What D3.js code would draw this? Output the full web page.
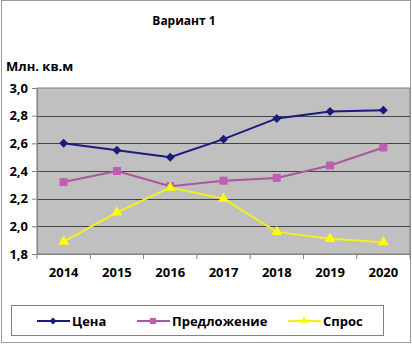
<!DOCTYPE html>
<html>
<head>
<meta charset="utf-8">
<script src="https://cdnjs.cloudflare.com/ajax/libs/d3/7.8.5/d3.min.js"></script>
<style>
body { margin: 0; background: #fff; }
svg text { font-family: "Open Sans", "DejaVu Sans", sans-serif; font-weight: bold; fill: #000; }
</style>
</head>
<body>
<script>
(function(){

//data
var years = ["2014", "2015", "2016", "2017", "2018", "2019", "2020"];
var price = [2.60, 2.55, 2.50, 2.63, 2.78, 2.83, 2.84];
var supply = [2.32, 2.40, 2.29, 2.33, 2.35, 2.44, 2.57];
var demand = [1.89, 2.10, 2.28, 2.20, 1.96, 1.91, 1.885];
var yTicks = [1.8, 2.0, 2.2, 2.4, 2.6, 2.8, 3.0];
var seriesNames = ["Цена", "Предложение", "Спрос"];

var width = 412, height = 349;
var plot = {left: 37, right: 410, top: 88, bottom: 254};

var svg = d3.select("body").append("svg")
    .attr("width", width)
    .attr("height", height);

//outer chart border
svg.append("rect")
    .attr("x", 1.5).attr("y", 0.5)
    .attr("width", 409).attr("height", 342)
    .attr("fill", "#fff")
    .attr("stroke", "#9a9a9a");

var x = d3.scaleBand().domain(years).range([plot.left, plot.right]);
var y = d3.scaleLinear().domain([1.8, 3.0]).range([plot.bottom, plot.top]);

//plot background
svg.append("rect")
    .attr("x", plot.left).attr("y", plot.top)
    .attr("width", plot.right - plot.left)
    .attr("height", plot.bottom - plot.top)
    .attr("fill", "#c0c0c0")
    .attr("stroke", "#808080");

//gridlines
svg.selectAll(".grid")
    .data(yTicks.slice(1, -1))
    .enter().append("line")
    .attr("class", "grid")
    .attr("x1", plot.left).attr("x2", plot.right)
    .attr("y1", function(d){ return Math.round(y(d)) + 0.5; })
    .attr("y2", function(d){ return Math.round(y(d)) + 0.5; })
    .attr("stroke", "#444")
    .attr("stroke-width", 1);

//y axis
var yAxis = svg.append("g")
    .attr("transform", "translate(" + plot.left + ",0)")
    .call(d3.axisLeft(y).tickValues(yTicks).tickSize(5).tickPadding(6)
        .tickFormat(function(d){ return d3.format(".1f")(d).replace(".", ","); }));
yAxis.select(".domain").attr("stroke", "#808080");
yAxis.selectAll(".tick line").attr("stroke", "#808080");
yAxis.selectAll("text").attr("font-size", 13).attr("x", -9);

//x axis
var xAxis = svg.append("g")
    .attr("transform", "translate(0," + plot.bottom + ")")
    .call(d3.axisBottom(x).tickSize(0).tickPadding(14));
xAxis.select(".domain").attr("stroke", "#808080");
xAxis.selectAll("text").attr("font-size", 13);

//category separators on x axis
svg.selectAll(".xsep")
    .data(years.concat(["end"]))
    .enter().append("line")
    .attr("class", "xsep")
    .attr("x1", function(d, i){ return plot.left + i * x.bandwidth(); })
    .attr("x2", function(d, i){ return plot.left + i * x.bandwidth(); })
    .attr("y1", plot.bottom).attr("y2", plot.bottom + 5)
    .attr("stroke", "#808080");

//series
var series = [
    {name: seriesNames[0], values: price, line: "#1a1a80", fill: "#1a1a80", symbol: d3.symbolSquare, size: 40, rotate: 45},
    {name: seriesNames[1], values: supply, line: "#a8589e", fill: "#c25cb4", symbol: d3.symbolSquare, size: 64, rotate: 0},
    {name: seriesNames[2], values: demand, line: "#f0f020", fill: "#ffff00", symbol: d3.symbolTriangle, size: 50, rotate: 0}
];

var line = d3.line()
    .x(function(d, i){ return x(years[i]) + x.bandwidth() / 2; })
    .y(function(d){ return y(d); });

series.forEach(function(s){
    svg.append("path")
        .datum(s.values)
        .attr("d", line)
        .attr("fill", "none")
        .attr("stroke", s.line)
        .attr("stroke-width", 2);
    svg.selectAll(null)
        .data(s.values)
        .enter().append("path")
        .attr("d", d3.symbol().type(s.symbol).size(s.size))
        .attr("transform", function(d, i){
            return "translate(" + (x(years[i]) + x.bandwidth() / 2) + "," + y(d) + ") rotate(" + s.rotate + ")";
        })
        .attr("fill", s.fill);
});

//title and axis title
svg.append("text")
    .attr("x", 184).attr("y", 25)
    .attr("text-anchor", "middle")
    .attr("font-size", 12)
    .text("Вариант 1");

svg.append("text")
    .attr("x", 6).attr("y", 71)
    .attr("font-size", 13)
    .text("Млн. кв.м");

//legend
svg.append("rect")
    .attr("x", 11.5).attr("y", 305.5)
    .attr("width", 372).attr("height", 30)
    .attr("fill", "#fff")
    .attr("stroke", "#808080");

var legendX = [37, 137, 288];
var legend = svg.selectAll(".legend")
    .data(series)
    .enter().append("g")
    .attr("class", "legend")
    .attr("transform", function(d, i){ return "translate(" + legendX[i] + ",321)"; });

legend.append("line")
    .attr("x1", 0).attr("x2", 33)
    .attr("stroke", function(d){ return d.line; })
    .attr("stroke-width", 2);
legend.append("path")
    .attr("d", function(d){ return d3.symbol().type(d.symbol).size(d.size * 0.6)(); })
    .attr("transform", function(d){ return "translate(16,0) rotate(" + d.rotate + ")"; })
    .attr("fill", function(d){ return d.fill; });
legend.append("text")
    .attr("x", 35).attr("y", 5)
    .attr("font-size", 13)
    .text(function(d){ return d.name; });

})();
</script>
</body>
</html>
